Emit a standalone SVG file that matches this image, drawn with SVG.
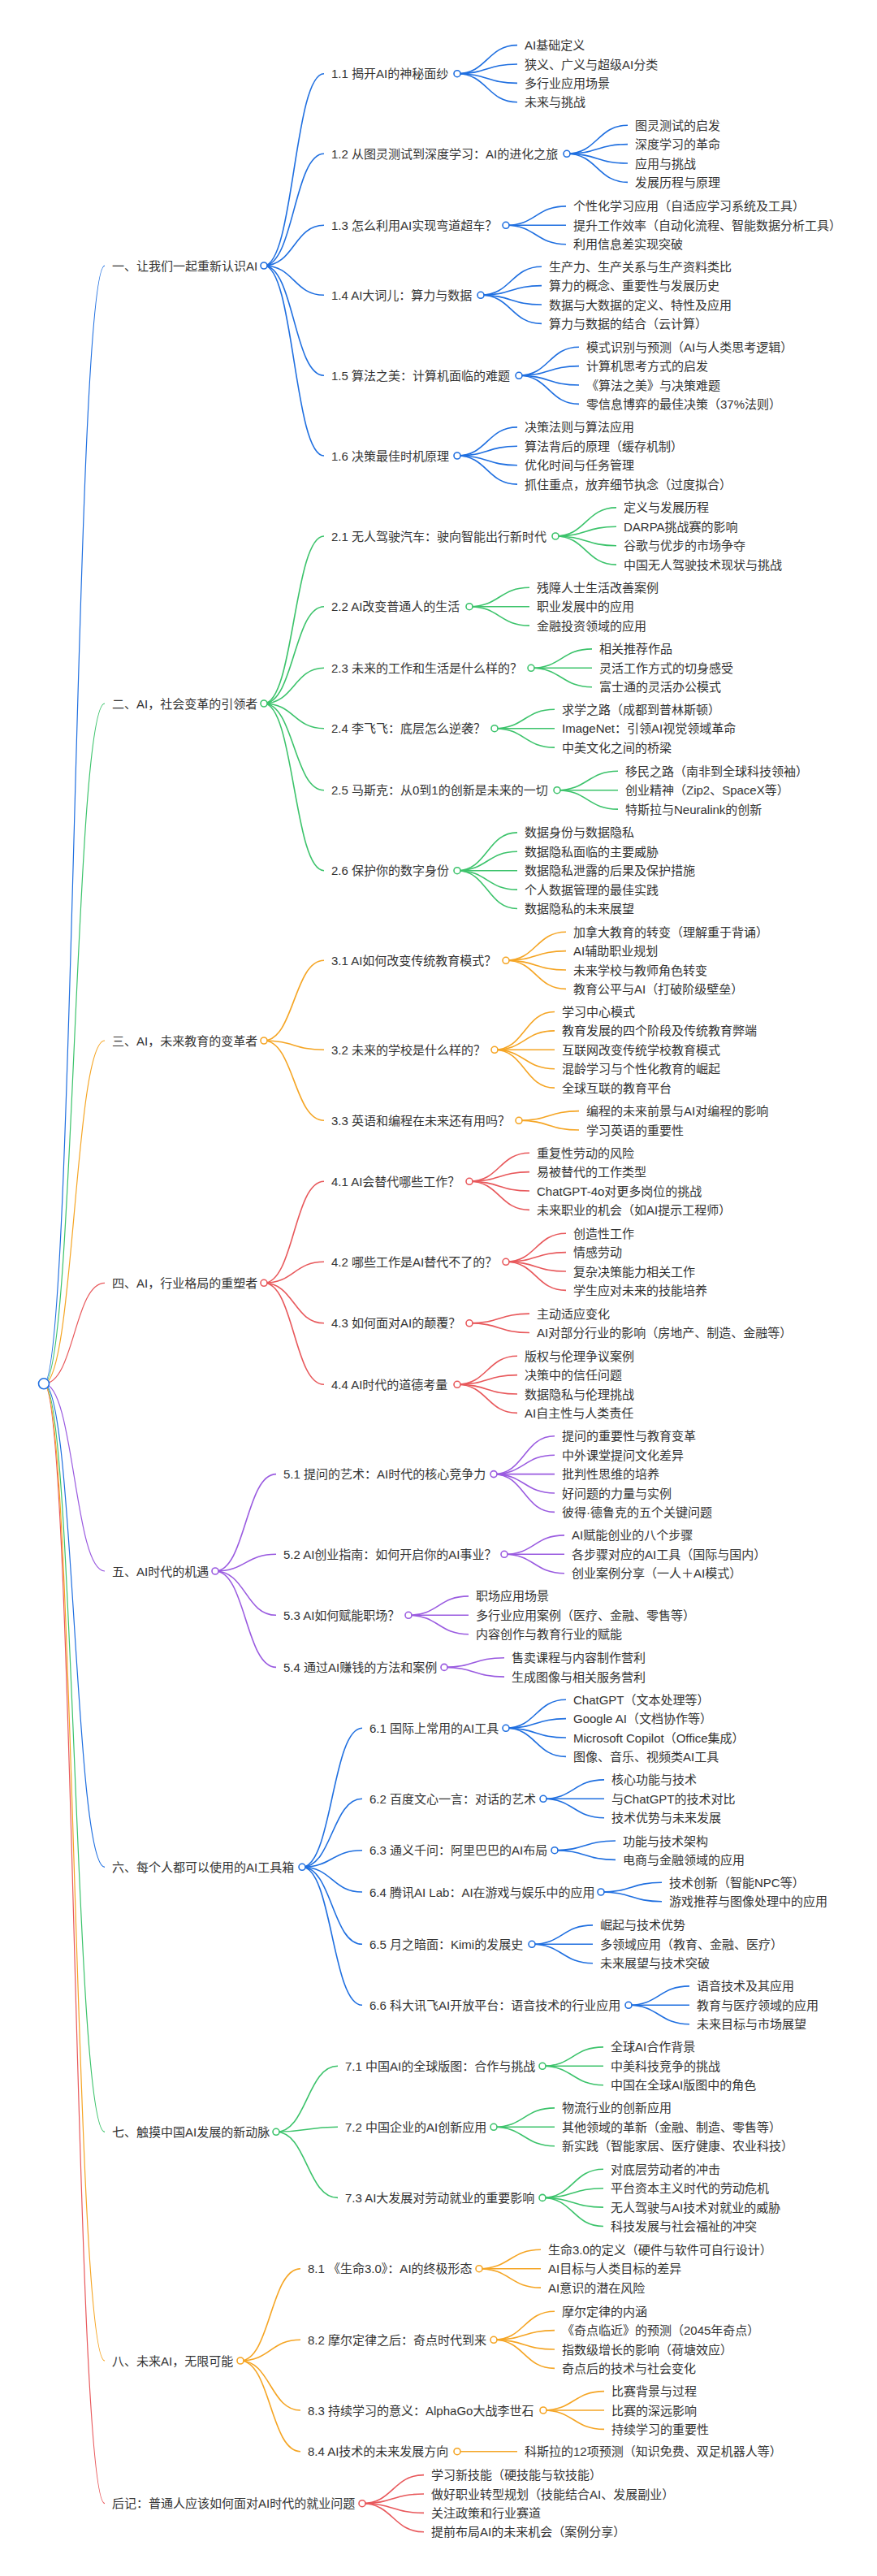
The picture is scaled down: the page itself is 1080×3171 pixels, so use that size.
<svg xmlns="http://www.w3.org/2000/svg" width="1080" height="3171" viewBox="0 0 1080 3171">
<style>
text{font-family:"Liberation Sans","Noto Sans CJK SC",sans-serif;font-size:15px;fill:#333}
.c{fill:#fff;stroke-width:1.6}
path{fill:none;stroke-width:1.6}
.r0{stroke-width:1.2}
.b{stroke:#1f6fe0}.g{stroke:#3cc36b}.o{stroke:#f5a524}.r{stroke:#e8585b}.p{stroke:#9a5be0}
</style>
<rect width="1080" height="3171" fill="#fff"/>
<g id="connectors">
<g class="b">
<path class="r0" d="M54,1703.3 C91.5,1703.3 91.5,327 129,327"/>
<path d="M325,327 C362,327 362,90.7 399,90.7"/>
<path d="M325,327 C362,327 362,189.3 399,189.3"/>
<path d="M325,327 C362,327 362,277.3 399,277.3"/>
<path d="M325,327 C362,327 362,363.3 399,363.3"/>
<path d="M325,327 C362,327 362,462.3 399,462.3"/>
<path d="M325,327 C362,327 362,561 399,561"/>
<path d="M563,90.7 C600,90.7 600,55.6 637,55.6"/>
<path d="M563,90.7 C600,90.7 600,79 637,79"/>
<path d="M563,90.7 C600,90.7 600,102.4 637,102.4"/>
<path d="M563,90.7 C600,90.7 600,125.8 637,125.8"/>
<path d="M698,189.3 C735.5,189.3 735.5,154.2 773,154.2"/>
<path d="M698,189.3 C735.5,189.3 735.5,177.6 773,177.6"/>
<path d="M698,189.3 C735.5,189.3 735.5,201 773,201"/>
<path d="M698,189.3 C735.5,189.3 735.5,224.4 773,224.4"/>
<path d="M623,277.3 C660,277.3 660,253.9 697,253.9"/>
<path d="M623,277.3 L697,277.3"/>
<path d="M623,277.3 C660,277.3 660,300.7 697,300.7"/>
<path d="M592,363.3 C629.5,363.3 629.5,328.2 667,328.2"/>
<path d="M592,363.3 C629.5,363.3 629.5,351.6 667,351.6"/>
<path d="M592,363.3 C629.5,363.3 629.5,375 667,375"/>
<path d="M592,363.3 C629.5,363.3 629.5,398.4 667,398.4"/>
<path d="M639,462.3 C676,462.3 676,427.2 713,427.2"/>
<path d="M639,462.3 C676,462.3 676,450.6 713,450.6"/>
<path d="M639,462.3 C676,462.3 676,474 713,474"/>
<path d="M639,462.3 C676,462.3 676,497.4 713,497.4"/>
<path d="M563,561 C600,561 600,525.9 637,525.9"/>
<path d="M563,561 C600,561 600,549.3 637,549.3"/>
<path d="M563,561 C600,561 600,572.7 637,572.7"/>
<path d="M563,561 C600,561 600,596.1 637,596.1"/>
</g>
<g class="g">
<path class="r0" d="M54,1703.3 C91.5,1703.3 91.5,866 129,866"/>
<path d="M325,866 C362,866 362,660 399,660"/>
<path d="M325,866 C362,866 362,746.7 399,746.7"/>
<path d="M325,866 C362,866 362,822.3 399,822.3"/>
<path d="M325,866 C362,866 362,896.7 399,896.7"/>
<path d="M325,866 C362,866 362,972.7 399,972.7"/>
<path d="M325,866 C362,866 362,1071.7 399,1071.7"/>
<path d="M684,660 C721.5,660 721.5,624.9 759,624.9"/>
<path d="M684,660 C721.5,660 721.5,648.3 759,648.3"/>
<path d="M684,660 C721.5,660 721.5,671.7 759,671.7"/>
<path d="M684,660 C721.5,660 721.5,695.1 759,695.1"/>
<path d="M578,746.7 C615,746.7 615,723.3 652,723.3"/>
<path d="M578,746.7 L652,746.7"/>
<path d="M578,746.7 C615,746.7 615,770.1 652,770.1"/>
<path d="M654,822.3 C691.5,822.3 691.5,798.9 729,798.9"/>
<path d="M654,822.3 L729,822.3"/>
<path d="M654,822.3 C691.5,822.3 691.5,845.7 729,845.7"/>
<path d="M609,896.7 C646,896.7 646,873.3 683,873.3"/>
<path d="M609,896.7 L683,896.7"/>
<path d="M609,896.7 C646,896.7 646,920.1 683,920.1"/>
<path d="M686,972.7 C723.5,972.7 723.5,949.3 761,949.3"/>
<path d="M686,972.7 L761,972.7"/>
<path d="M686,972.7 C723.5,972.7 723.5,996.1 761,996.1"/>
<path d="M563,1071.7 C600,1071.7 600,1024.9 637,1024.9"/>
<path d="M563,1071.7 C600,1071.7 600,1048.3 637,1048.3"/>
<path d="M563,1071.7 L637,1071.7"/>
<path d="M563,1071.7 C600,1071.7 600,1095.1 637,1095.1"/>
<path d="M563,1071.7 C600,1071.7 600,1118.5 637,1118.5"/>
</g>
<g class="o">
<path class="r0" d="M54,1703.3 C91.5,1703.3 91.5,1281 129,1281"/>
<path d="M325,1281 C362,1281 362,1182.3 399,1182.3"/>
<path d="M325,1281 C362,1281 362,1292.3 399,1292.3"/>
<path d="M325,1281 C362,1281 362,1379.3 399,1379.3"/>
<path d="M623,1182.3 C660,1182.3 660,1147.2 697,1147.2"/>
<path d="M623,1182.3 C660,1182.3 660,1170.6 697,1170.6"/>
<path d="M623,1182.3 C660,1182.3 660,1194 697,1194"/>
<path d="M623,1182.3 C660,1182.3 660,1217.4 697,1217.4"/>
<path d="M609,1292.3 C646,1292.3 646,1245.5 683,1245.5"/>
<path d="M609,1292.3 C646,1292.3 646,1268.9 683,1268.9"/>
<path d="M609,1292.3 L683,1292.3"/>
<path d="M609,1292.3 C646,1292.3 646,1315.7 683,1315.7"/>
<path d="M609,1292.3 C646,1292.3 646,1339.1 683,1339.1"/>
<path d="M639,1379.3 C676,1379.3 676,1367.6 713,1367.6"/>
<path d="M639,1379.3 C676,1379.3 676,1391 713,1391"/>
</g>
<g class="r">
<path class="r0" d="M54,1703.3 C91.5,1703.3 91.5,1579.3 129,1579.3"/>
<path d="M325,1579.3 C362,1579.3 362,1454.3 399,1454.3"/>
<path d="M325,1579.3 C362,1579.3 362,1553.3 399,1553.3"/>
<path d="M325,1579.3 C362,1579.3 362,1628.8 399,1628.8"/>
<path d="M325,1579.3 C362,1579.3 362,1704.3 399,1704.3"/>
<path d="M578,1454.3 C615,1454.3 615,1419.2 652,1419.2"/>
<path d="M578,1454.3 C615,1454.3 615,1442.6 652,1442.6"/>
<path d="M578,1454.3 C615,1454.3 615,1466 652,1466"/>
<path d="M578,1454.3 C615,1454.3 615,1489.4 652,1489.4"/>
<path d="M623,1553.3 C660,1553.3 660,1518.2 697,1518.2"/>
<path d="M623,1553.3 C660,1553.3 660,1541.6 697,1541.6"/>
<path d="M623,1553.3 C660,1553.3 660,1565 697,1565"/>
<path d="M623,1553.3 C660,1553.3 660,1588.4 697,1588.4"/>
<path d="M578,1628.8 C615,1628.8 615,1617.1 652,1617.1"/>
<path d="M578,1628.8 C615,1628.8 615,1640.5 652,1640.5"/>
<path d="M563,1704.3 C600,1704.3 600,1669.2 637,1669.2"/>
<path d="M563,1704.3 C600,1704.3 600,1692.6 637,1692.6"/>
<path d="M563,1704.3 C600,1704.3 600,1716 637,1716"/>
<path d="M563,1704.3 C600,1704.3 600,1739.4 637,1739.4"/>
<path class="r0" d="M54,1703.3 C91.5,1703.3 91.5,3081.7 129,3081.7"/>
<path d="M446,3081.7 C484,3081.7 484,3046.6 522,3046.6"/>
<path d="M446,3081.7 C484,3081.7 484,3070 522,3070"/>
<path d="M446,3081.7 C484,3081.7 484,3093.4 522,3093.4"/>
<path d="M446,3081.7 C484,3081.7 484,3116.8 522,3116.8"/>
</g>
<g class="p">
<path class="r0" d="M54,1703.3 C91.5,1703.3 91.5,1934 129,1934"/>
<path d="M265,1934 C302.5,1934 302.5,1814.6 340,1814.6"/>
<path d="M265,1934 C302.5,1934 302.5,1913.3 340,1913.3"/>
<path d="M265,1934 C302.5,1934 302.5,1988.3 340,1988.3"/>
<path d="M265,1934 C302.5,1934 302.5,2052.4 340,2052.4"/>
<path d="M608,1814.6 C645.5,1814.6 645.5,1767.8 683,1767.8"/>
<path d="M608,1814.6 C645.5,1814.6 645.5,1791.2 683,1791.2"/>
<path d="M608,1814.6 L683,1814.6"/>
<path d="M608,1814.6 C645.5,1814.6 645.5,1838 683,1838"/>
<path d="M608,1814.6 C645.5,1814.6 645.5,1861.4 683,1861.4"/>
<path d="M621,1913.3 C658,1913.3 658,1889.9 695,1889.9"/>
<path d="M621,1913.3 L695,1913.3"/>
<path d="M621,1913.3 C658,1913.3 658,1936.7 695,1936.7"/>
<path d="M503,1988.3 C540,1988.3 540,1964.9 577,1964.9"/>
<path d="M503,1988.3 L577,1988.3"/>
<path d="M503,1988.3 C540,1988.3 540,2011.7 577,2011.7"/>
<path d="M547,2052.4 C584,2052.4 584,2040.7 621,2040.7"/>
<path d="M547,2052.4 C584,2052.4 584,2064.1 621,2064.1"/>
</g>
<g class="b">
<path class="r0" d="M54,1703.3 C91.5,1703.3 91.5,2298.3 129,2298.3"/>
<path d="M372,2298.3 C409,2298.3 409,2127.3 446,2127.3"/>
<path d="M372,2298.3 C409,2298.3 409,2214.3 446,2214.3"/>
<path d="M372,2298.3 C409,2298.3 409,2277.7 446,2277.7"/>
<path d="M372,2298.3 C409,2298.3 409,2329 446,2329"/>
<path d="M372,2298.3 C409,2298.3 409,2393.3 446,2393.3"/>
<path d="M372,2298.3 C409,2298.3 409,2468.3 446,2468.3"/>
<path d="M623,2127.3 C660,2127.3 660,2092.2 697,2092.2"/>
<path d="M623,2127.3 C660,2127.3 660,2115.6 697,2115.6"/>
<path d="M623,2127.3 C660,2127.3 660,2139 697,2139"/>
<path d="M623,2127.3 C660,2127.3 660,2162.4 697,2162.4"/>
<path d="M669,2214.3 C706.5,2214.3 706.5,2190.9 744,2190.9"/>
<path d="M669,2214.3 L744,2214.3"/>
<path d="M669,2214.3 C706.5,2214.3 706.5,2237.7 744,2237.7"/>
<path d="M683,2277.7 C720.5,2277.7 720.5,2266 758,2266"/>
<path d="M683,2277.7 C720.5,2277.7 720.5,2289.4 758,2289.4"/>
<path d="M740,2329 C777.5,2329 777.5,2317.3 815,2317.3"/>
<path d="M740,2329 C777.5,2329 777.5,2340.7 815,2340.7"/>
<path d="M655,2393.3 C692.5,2393.3 692.5,2369.9 730,2369.9"/>
<path d="M655,2393.3 L730,2393.3"/>
<path d="M655,2393.3 C692.5,2393.3 692.5,2416.7 730,2416.7"/>
<path d="M774,2468.3 C811.5,2468.3 811.5,2444.9 849,2444.9"/>
<path d="M774,2468.3 L849,2468.3"/>
<path d="M774,2468.3 C811.5,2468.3 811.5,2491.7 849,2491.7"/>
</g>
<g class="g">
<path class="r0" d="M54,1703.3 C91.5,1703.3 91.5,2624.3 129,2624.3"/>
<path d="M340,2624.3 C378,2624.3 378,2543.3 416,2543.3"/>
<path d="M340,2624.3 C378,2624.3 378,2618.3 416,2618.3"/>
<path d="M340,2624.3 C378,2624.3 378,2705.4 416,2705.4"/>
<path d="M668,2543.3 C705.5,2543.3 705.5,2519.9 743,2519.9"/>
<path d="M668,2543.3 L743,2543.3"/>
<path d="M668,2543.3 C705.5,2543.3 705.5,2566.7 743,2566.7"/>
<path d="M608,2618.3 C645.5,2618.3 645.5,2594.9 683,2594.9"/>
<path d="M608,2618.3 L683,2618.3"/>
<path d="M608,2618.3 C645.5,2618.3 645.5,2641.7 683,2641.7"/>
<path d="M668,2705.4 C705.5,2705.4 705.5,2670.3 743,2670.3"/>
<path d="M668,2705.4 C705.5,2705.4 705.5,2693.7 743,2693.7"/>
<path d="M668,2705.4 C705.5,2705.4 705.5,2717.1 743,2717.1"/>
<path d="M668,2705.4 C705.5,2705.4 705.5,2740.5 743,2740.5"/>
</g>
<g class="o">
<path class="r0" d="M54,1703.3 C91.5,1703.3 91.5,2906 129,2906"/>
<path d="M296,2906 C333,2906 333,2792.7 370,2792.7"/>
<path d="M296,2906 C333,2906 333,2880.3 370,2880.3"/>
<path d="M296,2906 C333,2906 333,2967 370,2967"/>
<path d="M296,2906 C333,2906 333,3017.7 370,3017.7"/>
<path d="M590,2792.7 C628,2792.7 628,2769.3 666,2769.3"/>
<path d="M590,2792.7 L666,2792.7"/>
<path d="M590,2792.7 C628,2792.7 628,2816.1 666,2816.1"/>
<path d="M608,2880.3 C645.5,2880.3 645.5,2845.2 683,2845.2"/>
<path d="M608,2880.3 C645.5,2880.3 645.5,2868.6 683,2868.6"/>
<path d="M608,2880.3 C645.5,2880.3 645.5,2892 683,2892"/>
<path d="M608,2880.3 C645.5,2880.3 645.5,2915.4 683,2915.4"/>
<path d="M669,2967 C706.5,2967 706.5,2943.6 744,2943.6"/>
<path d="M669,2967 L744,2967"/>
<path d="M669,2967 C706.5,2967 706.5,2990.4 744,2990.4"/>
<path d="M563,3017.7 L637,3017.7"/>
</g>
</g>

<g id="root"><circle class="c b" cx="54" cy="1703.3" r="6.5"/></g>

<g id="s1"><text x="138" y="332.5">一、让我们一起重新认识AI</text><circle class="c b" cx="325" cy="327" r="4"/></g>
<g id="s1_1"><text x="408" y="96.2">1.1 揭开AI的神秘面纱</text><circle class="c b" cx="563" cy="90.7" r="4"/></g>
<g id="s1_1a"><text x="646" y="61.1">AI基础定义</text></g>
<g id="s1_1b"><text x="646" y="84.5">狭义、广义与超级AI分类</text></g>
<g id="s1_1c"><text x="646" y="107.9">多行业应用场景</text></g>
<g id="s1_1d"><text x="646" y="131.3">未来与挑战</text></g>
<g id="s1_2"><text x="408" y="194.8">1.2 从图灵测试到深度学习：AI的进化之旅</text><circle class="c b" cx="698" cy="189.3" r="4"/></g>
<g id="s1_2a"><text x="782" y="159.7">图灵测试的启发</text></g>
<g id="s1_2b"><text x="782" y="183.1">深度学习的革命</text></g>
<g id="s1_2c"><text x="782" y="206.5">应用与挑战</text></g>
<g id="s1_2d"><text x="782" y="229.9">发展历程与原理</text></g>
<g id="s1_3"><text x="408" y="282.8">1.3 怎么利用AI实现弯道超车？</text><circle class="c b" cx="623" cy="277.3" r="4"/></g>
<g id="s1_3a"><text x="706" y="259.4">个性化学习应用（自适应学习系统及工具）</text></g>
<g id="s1_3b"><text x="706" y="282.8">提升工作效率（自动化流程、智能数据分析工具）</text></g>
<g id="s1_3c"><text x="706" y="306.2">利用信息差实现突破</text></g>
<g id="s1_4"><text x="408" y="368.8">1.4 AI大词儿：算力与数据</text><circle class="c b" cx="592" cy="363.3" r="4"/></g>
<g id="s1_4a"><text x="676" y="333.7">生产力、生产关系与生产资料类比</text></g>
<g id="s1_4b"><text x="676" y="357.1">算力的概念、重要性与发展历史</text></g>
<g id="s1_4c"><text x="676" y="380.5">数据与大数据的定义、特性及应用</text></g>
<g id="s1_4d"><text x="676" y="403.9">算力与数据的结合（云计算）</text></g>
<g id="s1_5"><text x="408" y="467.8">1.5 算法之美：计算机面临的难题</text><circle class="c b" cx="639" cy="462.3" r="4"/></g>
<g id="s1_5a"><text x="722" y="432.7">模式识别与预测（AI与人类思考逻辑）</text></g>
<g id="s1_5b"><text x="722" y="456.1">计算机思考方式的启发</text></g>
<g id="s1_5c"><text x="722" y="479.5">《算法之美》与决策难题</text></g>
<g id="s1_5d"><text x="722" y="502.9">零信息博弈的最佳决策（37%法则）</text></g>
<g id="s1_6"><text x="408" y="566.5">1.6 决策最佳时机原理</text><circle class="c b" cx="563" cy="561" r="4"/></g>
<g id="s1_6a"><text x="646" y="531.4">决策法则与算法应用</text></g>
<g id="s1_6b"><text x="646" y="554.8">算法背后的原理（缓存机制）</text></g>
<g id="s1_6c"><text x="646" y="578.2">优化时间与任务管理</text></g>
<g id="s1_6d"><text x="646" y="601.6">抓住重点，放弃细节执念（过度拟合）</text></g>

<g id="s2"><text x="138" y="871.5">二、AI，社会变革的引领者</text><circle class="c g" cx="325" cy="866" r="4"/></g>
<g id="s2_1"><text x="408" y="665.5">2.1 无人驾驶汽车：驶向智能出行新时代</text><circle class="c g" cx="684" cy="660" r="4"/></g>
<g id="s2_1a"><text x="768" y="630.4">定义与发展历程</text></g>
<g id="s2_1b"><text x="768" y="653.8">DARPA挑战赛的影响</text></g>
<g id="s2_1c"><text x="768" y="677.2">谷歌与优步的市场争夺</text></g>
<g id="s2_1d"><text x="768" y="700.6">中国无人驾驶技术现状与挑战</text></g>
<g id="s2_2"><text x="408" y="752.2">2.2 AI改变普通人的生活</text><circle class="c g" cx="578" cy="746.7" r="4"/></g>
<g id="s2_2a"><text x="661" y="728.8">残障人士生活改善案例</text></g>
<g id="s2_2b"><text x="661" y="752.2">职业发展中的应用</text></g>
<g id="s2_2c"><text x="661" y="775.6">金融投资领域的应用</text></g>
<g id="s2_3"><text x="408" y="827.8">2.3 未来的工作和生活是什么样的？</text><circle class="c g" cx="654" cy="822.3" r="4"/></g>
<g id="s2_3a"><text x="738" y="804.4">相关推荐作品</text></g>
<g id="s2_3b"><text x="738" y="827.8">灵活工作方式的切身感受</text></g>
<g id="s2_3c"><text x="738" y="851.2">富士通的灵活办公模式</text></g>
<g id="s2_4"><text x="408" y="902.2">2.4 李飞飞：底层怎么逆袭？</text><circle class="c g" cx="609" cy="896.7" r="4"/></g>
<g id="s2_4a"><text x="692" y="878.8">求学之路（成都到普林斯顿）</text></g>
<g id="s2_4b"><text x="692" y="902.2">ImageNet：引领AI视觉领域革命</text></g>
<g id="s2_4c"><text x="692" y="925.6">中美文化之间的桥梁</text></g>
<g id="s2_5"><text x="408" y="978.2">2.5 马斯克：从0到1的创新是未来的一切</text><circle class="c g" cx="686" cy="972.7" r="4"/></g>
<g id="s2_5a"><text x="770" y="954.8">移民之路（南非到全球科技领袖）</text></g>
<g id="s2_5b"><text x="770" y="978.2">创业精神（Zip2、SpaceX等）</text></g>
<g id="s2_5c"><text x="770" y="1001.6">特斯拉与Neuralink的创新</text></g>
<g id="s2_6"><text x="408" y="1077.2">2.6 保护你的数字身份</text><circle class="c g" cx="563" cy="1071.7" r="4"/></g>
<g id="s2_6a"><text x="646" y="1030.4">数据身份与数据隐私</text></g>
<g id="s2_6b"><text x="646" y="1053.8">数据隐私面临的主要威胁</text></g>
<g id="s2_6c"><text x="646" y="1077.2">数据隐私泄露的后果及保护措施</text></g>
<g id="s2_6d"><text x="646" y="1100.6">个人数据管理的最佳实践</text></g>
<g id="s2_6e"><text x="646" y="1124">数据隐私的未来展望</text></g>

<g id="s3"><text x="138" y="1286.5">三、AI，未来教育的变革者</text><circle class="c o" cx="325" cy="1281" r="4"/></g>
<g id="s3_1"><text x="408" y="1187.8">3.1 AI如何改变传统教育模式？</text><circle class="c o" cx="623" cy="1182.3" r="4"/></g>
<g id="s3_1a"><text x="706" y="1152.7">加拿大教育的转变（理解重于背诵）</text></g>
<g id="s3_1b"><text x="706" y="1176.1">AI辅助职业规划</text></g>
<g id="s3_1c"><text x="706" y="1199.5">未来学校与教师角色转变</text></g>
<g id="s3_1d"><text x="706" y="1222.9">教育公平与AI（打破阶级壁垒）</text></g>
<g id="s3_2"><text x="408" y="1297.8">3.2 未来的学校是什么样的？</text><circle class="c o" cx="609" cy="1292.3" r="4"/></g>
<g id="s3_2a"><text x="692" y="1251">学习中心模式</text></g>
<g id="s3_2b"><text x="692" y="1274.4">教育发展的四个阶段及传统教育弊端</text></g>
<g id="s3_2c"><text x="692" y="1297.8">互联网改变传统学校教育模式</text></g>
<g id="s3_2d"><text x="692" y="1321.2">混龄学习与个性化教育的崛起</text></g>
<g id="s3_2e"><text x="692" y="1344.6">全球互联的教育平台</text></g>
<g id="s3_3"><text x="408" y="1384.8">3.3 英语和编程在未来还有用吗？</text><circle class="c o" cx="639" cy="1379.3" r="4"/></g>
<g id="s3_3a"><text x="722" y="1373.1">编程的未来前景与AI对编程的影响</text></g>
<g id="s3_3b"><text x="722" y="1396.5">学习英语的重要性</text></g>

<g id="s4"><text x="138" y="1584.8">四、AI，行业格局的重塑者</text><circle class="c r" cx="325" cy="1579.3" r="4"/></g>
<g id="s4_1"><text x="408" y="1459.8">4.1 AI会替代哪些工作？</text><circle class="c r" cx="578" cy="1454.3" r="4"/></g>
<g id="s4_1a"><text x="661" y="1424.7">重复性劳动的风险</text></g>
<g id="s4_1b"><text x="661" y="1448.1">易被替代的工作类型</text></g>
<g id="s4_1c"><text x="661" y="1471.5">ChatGPT-4o对更多岗位的挑战</text></g>
<g id="s4_1d"><text x="661" y="1494.9">未来职业的机会（如AI提示工程师）</text></g>
<g id="s4_2"><text x="408" y="1558.8">4.2 哪些工作是AI替代不了的？</text><circle class="c r" cx="623" cy="1553.3" r="4"/></g>
<g id="s4_2a"><text x="706" y="1523.7">创造性工作</text></g>
<g id="s4_2b"><text x="706" y="1547.1">情感劳动</text></g>
<g id="s4_2c"><text x="706" y="1570.5">复杂决策能力相关工作</text></g>
<g id="s4_2d"><text x="706" y="1593.9">学生应对未来的技能培养</text></g>
<g id="s4_3"><text x="408" y="1634.3">4.3 如何面对AI的颠覆？</text><circle class="c r" cx="578" cy="1628.8" r="4"/></g>
<g id="s4_3a"><text x="661" y="1622.6">主动适应变化</text></g>
<g id="s4_3b"><text x="661" y="1646">AI对部分行业的影响（房地产、制造、金融等）</text></g>
<g id="s4_4"><text x="408" y="1709.8">4.4 AI时代的道德考量</text><circle class="c r" cx="563" cy="1704.3" r="4"/></g>
<g id="s4_4a"><text x="646" y="1674.7">版权与伦理争议案例</text></g>
<g id="s4_4b"><text x="646" y="1698.1">决策中的信任问题</text></g>
<g id="s4_4c"><text x="646" y="1721.5">数据隐私与伦理挑战</text></g>
<g id="s4_4d"><text x="646" y="1744.9">AI自主性与人类责任</text></g>

<g id="s5"><text x="138" y="1939.5">五、AI时代的机遇</text><circle class="c p" cx="265" cy="1934" r="4"/></g>
<g id="s5_1"><text x="349" y="1820.1">5.1 提问的艺术：AI时代的核心竞争力</text><circle class="c p" cx="608" cy="1814.6" r="4"/></g>
<g id="s5_1a"><text x="692" y="1773.3">提问的重要性与教育变革</text></g>
<g id="s5_1b"><text x="692" y="1796.7">中外课堂提问文化差异</text></g>
<g id="s5_1c"><text x="692" y="1820.1">批判性思维的培养</text></g>
<g id="s5_1d"><text x="692" y="1843.5">好问题的力量与实例</text></g>
<g id="s5_1e"><text x="692" y="1866.9">彼得·德鲁克的五个关键问题</text></g>
<g id="s5_2"><text x="349" y="1918.8">5.2 AI创业指南：如何开启你的AI事业？</text><circle class="c p" cx="621" cy="1913.3" r="4"/></g>
<g id="s5_2a"><text x="704" y="1895.4">AI赋能创业的八个步骤</text></g>
<g id="s5_2b"><text x="704" y="1918.8">各步骤对应的AI工具（国际与国内）</text></g>
<g id="s5_2c"><text x="704" y="1942.2">创业案例分享（一人＋AI模式）</text></g>
<g id="s5_3"><text x="349" y="1993.8">5.3 AI如何赋能职场？</text><circle class="c p" cx="503" cy="1988.3" r="4"/></g>
<g id="s5_3a"><text x="586" y="1970.4">职场应用场景</text></g>
<g id="s5_3b"><text x="586" y="1993.8">多行业应用案例（医疗、金融、零售等）</text></g>
<g id="s5_3c"><text x="586" y="2017.2">内容创作与教育行业的赋能</text></g>
<g id="s5_4"><text x="349" y="2057.9">5.4 通过AI赚钱的方法和案例</text><circle class="c p" cx="547" cy="2052.4" r="4"/></g>
<g id="s5_4a"><text x="630" y="2046.2">售卖课程与内容制作营利</text></g>
<g id="s5_4b"><text x="630" y="2069.6">生成图像与相关服务营利</text></g>

<g id="s6"><text x="138" y="2303.8">六、每个人都可以使用的AI工具箱</text><circle class="c b" cx="372" cy="2298.3" r="4"/></g>
<g id="s6_1"><text x="455" y="2132.8">6.1 国际上常用的AI工具</text><circle class="c b" cx="623" cy="2127.3" r="4"/></g>
<g id="s6_1a"><text x="706" y="2097.7">ChatGPT（文本处理等）</text></g>
<g id="s6_1b"><text x="706" y="2121.1">Google AI（文档协作等）</text></g>
<g id="s6_1c"><text x="706" y="2144.5">Microsoft Copilot（Office集成）</text></g>
<g id="s6_1d"><text x="706" y="2167.9">图像、音乐、视频类AI工具</text></g>
<g id="s6_2"><text x="455" y="2219.8">6.2 百度文心一言：对话的艺术</text><circle class="c b" cx="669" cy="2214.3" r="4"/></g>
<g id="s6_2a"><text x="753" y="2196.4">核心功能与技术</text></g>
<g id="s6_2b"><text x="753" y="2219.8">与ChatGPT的技术对比</text></g>
<g id="s6_2c"><text x="753" y="2243.2">技术优势与未来发展</text></g>
<g id="s6_3"><text x="455" y="2283.2">6.3 通义千问：阿里巴巴的AI布局</text><circle class="c b" cx="683" cy="2277.7" r="4"/></g>
<g id="s6_3a"><text x="767" y="2271.5">功能与技术架构</text></g>
<g id="s6_3b"><text x="767" y="2294.9">电商与金融领域的应用</text></g>
<g id="s6_4"><text x="455" y="2334.5">6.4 腾讯AI Lab：AI在游戏与娱乐中的应用</text><circle class="c b" cx="740" cy="2329" r="4"/></g>
<g id="s6_4a"><text x="824" y="2322.8">技术创新（智能NPC等）</text></g>
<g id="s6_4b"><text x="824" y="2346.2">游戏推荐与图像处理中的应用</text></g>
<g id="s6_5"><text x="455" y="2398.8">6.5 月之暗面：Kimi的发展史</text><circle class="c b" cx="655" cy="2393.3" r="4"/></g>
<g id="s6_5a"><text x="739" y="2375.4">崛起与技术优势</text></g>
<g id="s6_5b"><text x="739" y="2398.8">多领域应用（教育、金融、医疗）</text></g>
<g id="s6_5c"><text x="739" y="2422.2">未来展望与技术突破</text></g>
<g id="s6_6"><text x="455" y="2473.8">6.6 科大讯飞AI开放平台：语音技术的行业应用</text><circle class="c b" cx="774" cy="2468.3" r="4"/></g>
<g id="s6_6a"><text x="858" y="2450.4">语音技术及其应用</text></g>
<g id="s6_6b"><text x="858" y="2473.8">教育与医疗领域的应用</text></g>
<g id="s6_6c"><text x="858" y="2497.2">未来目标与市场展望</text></g>

<g id="s7"><text x="138" y="2629.8">七、触摸中国AI发展的新动脉</text><circle class="c g" cx="340" cy="2624.3" r="4"/></g>
<g id="s7_1"><text x="425" y="2548.8">7.1 中国AI的全球版图：合作与挑战</text><circle class="c g" cx="668" cy="2543.3" r="4"/></g>
<g id="s7_1a"><text x="752" y="2525.4">全球AI合作背景</text></g>
<g id="s7_1b"><text x="752" y="2548.8">中美科技竞争的挑战</text></g>
<g id="s7_1c"><text x="752" y="2572.2">中国在全球AI版图中的角色</text></g>
<g id="s7_2"><text x="425" y="2623.8">7.2 中国企业的AI创新应用</text><circle class="c g" cx="608" cy="2618.3" r="4"/></g>
<g id="s7_2a"><text x="692" y="2600.4">物流行业的创新应用</text></g>
<g id="s7_2b"><text x="692" y="2623.8">其他领域的革新（金融、制造、零售等）</text></g>
<g id="s7_2c"><text x="692" y="2647.2">新实践（智能家居、医疗健康、农业科技）</text></g>
<g id="s7_3"><text x="425" y="2710.9">7.3 AI大发展对劳动就业的重要影响</text><circle class="c g" cx="668" cy="2705.4" r="4"/></g>
<g id="s7_3a"><text x="752" y="2675.8">对底层劳动者的冲击</text></g>
<g id="s7_3b"><text x="752" y="2699.2">平台资本主义时代的劳动危机</text></g>
<g id="s7_3c"><text x="752" y="2722.6">无人驾驶与AI技术对就业的威胁</text></g>
<g id="s7_3d"><text x="752" y="2746">科技发展与社会福祉的冲突</text></g>

<g id="s8"><text x="138" y="2911.5">八、未来AI，无限可能</text><circle class="c o" cx="296" cy="2906" r="4"/></g>
<g id="s8_1"><text x="379" y="2798.2">8.1 《生命3.0》：AI的终极形态</text><circle class="c o" cx="590" cy="2792.7" r="4"/></g>
<g id="s8_1a"><text x="675" y="2774.8">生命3.0的定义（硬件与软件可自行设计）</text></g>
<g id="s8_1b"><text x="675" y="2798.2">AI目标与人类目标的差异</text></g>
<g id="s8_1c"><text x="675" y="2821.6">AI意识的潜在风险</text></g>
<g id="s8_2"><text x="379" y="2885.8">8.2 摩尔定律之后：奇点时代到来</text><circle class="c o" cx="608" cy="2880.3" r="4"/></g>
<g id="s8_2a"><text x="692" y="2850.7">摩尔定律的内涵</text></g>
<g id="s8_2b"><text x="692" y="2874.1">《奇点临近》的预测（2045年奇点）</text></g>
<g id="s8_2c"><text x="692" y="2897.5">指数级增长的影响（荷塘效应）</text></g>
<g id="s8_2d"><text x="692" y="2920.9">奇点后的技术与社会变化</text></g>
<g id="s8_3"><text x="379" y="2972.5">8.3 持续学习的意义：AlphaGo大战李世石</text><circle class="c o" cx="669" cy="2967" r="4"/></g>
<g id="s8_3a"><text x="753" y="2949.1">比赛背景与过程</text></g>
<g id="s8_3b"><text x="753" y="2972.5">比赛的深远影响</text></g>
<g id="s8_3c"><text x="753" y="2995.9">持续学习的重要性</text></g>
<g id="s8_4"><text x="379" y="3023.2">8.4 AI技术的未来发展方向</text><circle class="c o" cx="563" cy="3017.7" r="4"/></g>
<g id="s8_4a"><text x="646" y="3023.2">科斯拉的12项预测（知识免费、双足机器人等）</text></g>

<g id="s9"><text x="138" y="3087.2">后记：普通人应该如何面对AI时代的就业问题</text><circle class="c r" cx="446" cy="3081.7" r="4"/></g>
<g id="s9a"><text x="531" y="3052.1">学习新技能（硬技能与软技能）</text></g>
<g id="s9b"><text x="531" y="3075.5">做好职业转型规划（技能结合AI、发展副业）</text></g>
<g id="s9c"><text x="531" y="3098.9">关注政策和行业赛道</text></g>
<g id="s9d"><text x="531" y="3122.3">提前布局AI的未来机会（案例分享）</text></g>
</svg>
